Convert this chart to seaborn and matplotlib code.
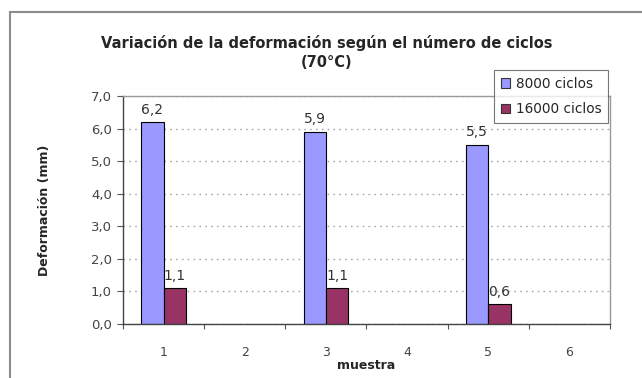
import matplotlib
matplotlib.use("Agg")
import matplotlib.pyplot as plt
from matplotlib.patches import Rectangle
from matplotlib.ticker import FixedLocator, FuncFormatter
import seaborn as sns
import pandas as pd
import numpy as np

# Data
muestras = ["1", "2", "3", "4", "5", "6"]
ciclos_8000 = [6.2, np.nan, 5.9, np.nan, 5.5, np.nan]
ciclos_16000 = [1.1, np.nan, 1.1, np.nan, 0.6, np.nan]
series = ["8000 ciclos", "16000 ciclos"]
colors = ["#9999FF", "#993366"]

df = pd.DataFrame({
    "muestra": muestras * 2,
    "valor": ciclos_8000 + ciclos_16000,
    "serie": [series[0]] * 6 + [series[1]] * 6,
}).dropna()

sns.set_theme(style="white")
plt.rcParams["font.family"] = ["DejaVu Sans"]

fig = plt.figure(figsize=(6.42, 3.78), dpi=100)
ax = fig.add_axes([123 / 642, 1 - 324 / 378, (610 - 123) / 642, (324 - 96) / 378])

sns.barplot(data=df, x="muestra", y="valor", hue="serie", order=muestras,
            hue_order=series, palette=colors, width=0.55, gap=0,
            edgecolor="black", linewidth=0.8, saturation=1, ax=ax, legend=True)

ax.set_xlim(-0.5, 5.5)
ax.set_ylim(0, 7)
ax.yaxis.set_major_locator(FixedLocator(np.arange(0, 8, 1)))
ax.yaxis.set_major_formatter(FuncFormatter(lambda v, p: f"{v:.1f}".replace(".", ",")))
ax.yaxis.grid(True, linestyle=(0, (1.2, 3)), color="#A8A8A8", linewidth=1.0)
ax.set_axisbelow(True)

# category ticks between groups
ax.xaxis.set_minor_locator(FixedLocator(np.arange(-0.5, 6, 1)))
ax.tick_params(axis="x", which="major", length=0, pad=16, labelsize=9, labelcolor="#444444")
ax.tick_params(axis="x", which="minor", length=3.5, width=0.8, color="#555555", direction="out", bottom=True)
ax.tick_params(axis="y", which="major", length=4, width=0.8, color="#555555", direction="out",
               left=True, labelsize=9.5, labelcolor="#444444", pad=4)

for side in ["top", "right"]:
    ax.spines[side].set_color("#9A9A9A")
    ax.spines[side].set_linewidth(1.0)
for side in ["left", "bottom"]:
    ax.spines[side].set_color("#444444")
    ax.spines[side].set_linewidth(1.0)

ax.set_xlabel("muestra", fontsize=9, fontweight="bold", labelpad=0)
ax.set_ylabel("Deformación (mm)", fontsize=9, fontweight="bold", labelpad=29)

# value labels
for cont in ax.containers:
    labels = [f"{b.get_height():.1f}".replace(".", ",") if not np.isnan(b.get_height()) else ""
              for b in cont]
    ax.bar_label(cont, labels=labels, padding=4, fontsize=10, color="#333333")

fig.suptitle("Variación de la deformación según el número de ciclos\n(70°C)",
             x=327 / 642, y=1 - 35 / 378, fontsize=10.5, fontweight="bold",
             linespacing=1.35, va="top")

leg = ax.legend(loc="upper left", bbox_to_anchor=(494 / 642, 1 - 70 / 378),
                bbox_transform=fig.transFigure, fontsize=9.8, frameon=True,
                fancybox=False, edgecolor="#555555", borderpad=0.5,
                handlelength=0.7, handleheight=0.7, handletextpad=0.4,
                labelspacing=0.85, borderaxespad=0)
leg.get_frame().set_linewidth(0.8)
for h in leg.legend_handles:
    h.set_edgecolor("#333333")

# chart-area frame
fig.patches.append(Rectangle((10 / 642, -0.1), 1.2, 1.1 - 12 / 378,
                             transform=fig.transFigure, fill=False,
                             edgecolor="#8C8C8C", linewidth=1.5))

fig.savefig("out.png", dpi=100, facecolor="white")
